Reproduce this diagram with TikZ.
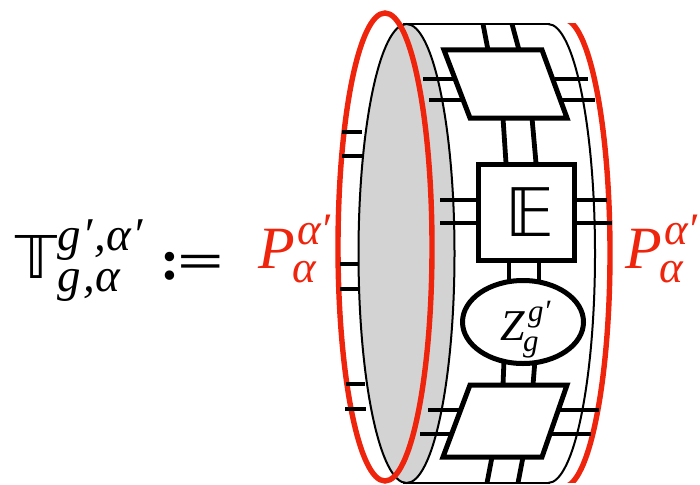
\documentclass[tikz,border=0pt]{standalone}
\usepackage{fontspec}
\usetikzlibrary{shapes.geometric}
\setmainfont{Liberation Serif}
\newfontfamily\bbfont{DejaVu Sans}
\definecolor{redline}{RGB}{238,36,12}
\definecolor{diskgray}{RGB}{211,211,211}
\newcommand{\fsz}[1]{\fontsize{#1}{#1}\selectfont}
\newcommand{\leg}[5]{\coordinate (#1a) at (#2,#3); \coordinate (#1b) at (#4,#5); \draw[wire] (#1a) -- (#1b);}
\tikzset{
  wire/.style={line width=4.8pt,black},
  block/.style={line width=5pt,black,fill=white,line join=miter},
  thinline/.style={line width=2pt,black},
  redring/.style={line width=5.4pt,redline},
  label/.style={inner sep=0pt,outer sep=0pt,anchor=base west},
  redlabel/.style={label,text=redline}
}
\begin{document}
\begin{tikzpicture}[x=1pt,y=-1pt]
\useasboundingbox (0,0) rectangle (700,484);
\clip (0,0) rectangle (700,484);

% cylinder body
\coordinate (ctrDisk) at (406.5,253.5);
\coordinate (ctrBack) at (548,253.5);
\coordinate (tl) at (403,24);
\coordinate (tr) at (550,24);
\coordinate (bl) at (403,483);
\coordinate (br) at (550,483);
\draw[thinline] (tl) -- (tr);
\draw[thinline] (bl) -- (br);
\begin{scope}
  \clip (548,0) rectangle (640,484);
  \draw[thinline] (ctrBack) circle[x radius=47,y radius=229.5];
\end{scope}
\draw[thinline,fill=diskgray] (ctrDisk) circle[x radius=48,y radius=229.5];

% red rings
\coordinate (ctrRed) at (385,247);
\coordinate (ctrRedB) at (563,253);
\draw[redring] (ctrRed) circle[x radius=47,y radius=234];
\begin{scope}
  \clip (560,24) rectangle (640,482);
  \draw[redring] (ctrRedB) circle[x radius=47,y radius=234];
\end{scope}

% wires
\leg{u1}{483}{24}{488}{50}
\leg{u2}{512}{24}{519}{50}
\leg{u3}{423}{79}{458}{79}
\leg{u4}{429}{100}{466}{100}
\leg{u5}{555}{79}{588}{79}
\leg{u6}{558}{100}{595}{100}
\leg{m1}{503}{118}{506}{163}
\leg{m2}{532}{118}{536}{163}
\leg{e1}{440}{200}{477}{200}
\leg{e2}{440}{223}{477}{223}
\leg{e3}{576}{200}{607}{200}
\leg{e4}{576}{223}{612}{223}
\leg{z1}{509}{262}{509}{285}
\leg{z2}{539}{262}{539}{285}
\leg{z3}{504}{360}{503}{385}
\leg{z4}{535}{360}{533}{385}
\leg{d1}{428}{410}{466}{410}
\leg{d2}{420}{434}{456}{434}
\leg{d3}{556}{410}{599}{410}
\leg{d4}{548}{434}{591}{434}
\leg{d5}{492}{457}{487}{483}
\leg{d6}{523}{457}{518}{483}
\leg{s1}{342}{132}{362}{132}
\leg{s2}{342}{156}{362}{156}
\leg{s3}{340}{264}{358}{264}
\leg{s4}{340}{289}{358}{289}
\leg{s5}{346}{384}{365}{384}
\leg{s6}{345}{409}{366}{409}

% blocks
\coordinate (pa) at (444,50);
\coordinate (pb) at (542,50);
\coordinate (pc) at (567,118);
\coordinate (pd) at (470,118);
\draw[block] (pa) -- (pb) -- (pc) -- (pd) -- cycle;
\coordinate (qa) at (470,385);
\coordinate (qb) at (567,385);
\coordinate (qc) at (542,457);
\coordinate (qd) at (443,457);
\draw[block] (qa) -- (qb) -- (qc) -- (qd) -- cycle;
\node[block,draw,rectangle,minimum width=96pt,minimum height=96pt,inner sep=0pt] (ebox) at (526.5,212.5) {};
\node[block,draw,ellipse,minimum width=121pt,minimum height=83pt,inner sep=0pt] (zell) at (523,322) {};

% text
\node[inner sep=0pt,text=black,font=\bbfont\fsz{67}] (etxt) at (530,212) {𝔼};
\node[label,font=\itshape\fsz{44}] (zt) at (500,340) {Z};
\node[label,font=\itshape\fsz{31}] (zs) at (528,321) {g′};
\node[label,font=\itshape\fsz{31}] (zb) at (523,351) {g};

\node[inner sep=0pt,font=\bbfont\fsz{59}] (tt) at (36,257) {𝕋};
\node[label,font=\itshape\fsz{47}] (tsup) at (57,250) {g\kern2pt′\kern2pt,α\kern1pt′};
\node[label,font=\itshape\fsz{47}] (tsub) at (57,291) {g\kern3pt,α};
\node[inner sep=0pt,anchor=base west,font=\bfseries\fsz{58}] (col) at (160,279) {:};
\node[inner sep=0pt,xscale=1.42,yscale=.82,font=\bfseries\fsz{58}] (eq) at (201,266) {=};

\node[redlabel,font=\itshape\fsz{60}] (p1) at (258,268) {P};
\node[redlabel,font=\itshape\fsz{45}] (p1s) at (297,244) {α′};
\node[redlabel,font=\itshape\fsz{45}] (p1b) at (292,282) {α};
\node[redlabel,font=\itshape\fsz{60}] (p2) at (625,268) {P};
\node[redlabel,font=\itshape\fsz{45}] (p2s) at (664,244) {α′};
\node[redlabel,font=\itshape\fsz{45}] (p2b) at (659,282) {α};
\end{tikzpicture}
\end{document}
